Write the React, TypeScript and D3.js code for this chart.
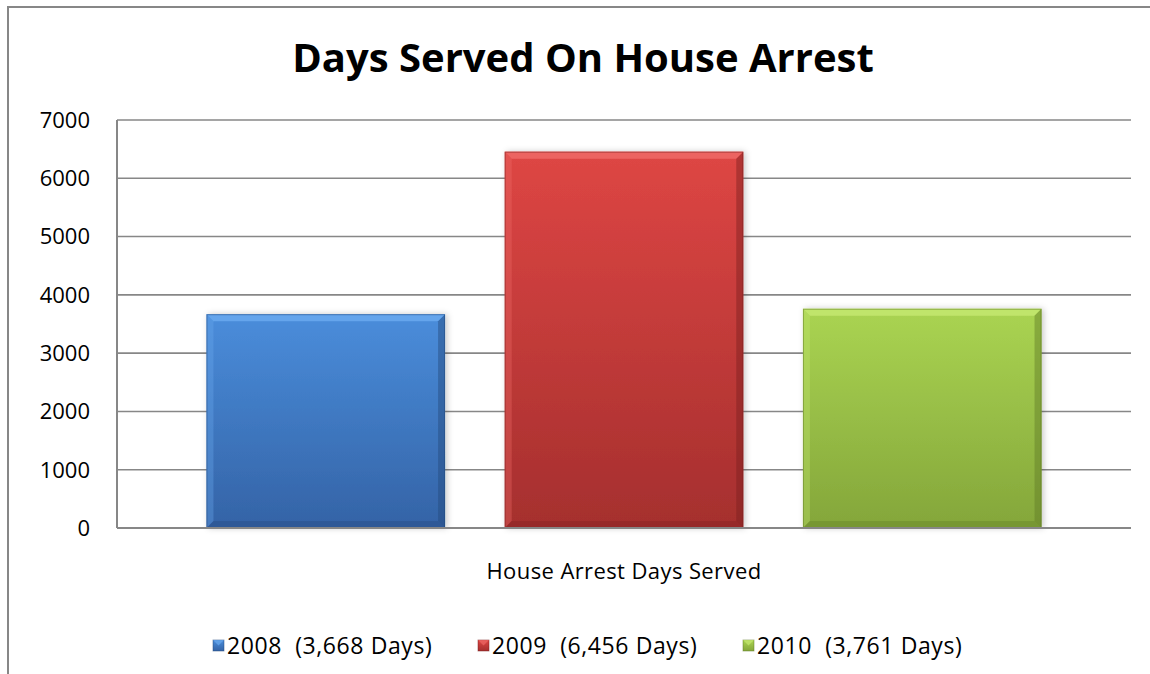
import { useMemo } from 'react';
import * as d3 from 'd3';

// chart data
const category = 'House Arrest Days Served';
const years = ['2008', '2009', '2010'];
const daysServed = [3668, 6456, 3761];
const legendLabels = ['2008  (3,668 Days)', '2009  (6,456 Days)', '2010  (3,761 Days)'];
const yTicks = [0, 1000, 2000, 3000, 4000, 5000, 6000, 7000];

const palette = [
  { top: '#4a8ddb', bottom: '#3463a6', light: '#6aa9ee', dark: '#24497c' },
  { top: '#de4644', bottom: '#a52f2e', light: '#ee6a66', dark: '#7a2020' },
  { top: '#aad452', bottom: '#84a63a', light: '#c4e870', dark: '#5f7a26' },
];

const W = 1150;
const H = 674;
const margin = { left: 117, right: 1131, top: 120, bottom: 528 };
const FONT = "'Open Sans', 'Noto Sans', sans-serif";

const App = () => {
  const x = useMemo(
    () => d3.scaleBand().domain(years).range([margin.left, margin.right]).paddingInner(0.2).paddingOuter(0.3),
    []
  );
  const y = useMemo(
    () => d3.scaleLinear().domain([0, 7000]).range([margin.bottom, margin.top]),
    []
  );
  const bw = x.bandwidth();
  const bev = 7;

  return (
    <div style={{ position: 'fixed', left: 0, top: 0 }}>
      <svg width={W} height={H} viewBox={`0 0 ${W} ${H}`} style={{ display: 'block', background: '#fff' }}>
        <defs>
          {palette.map((c, i) => (
            <linearGradient key={i} id={`grad${i}`} x1="0" y1="0" x2="0" y2="1">
              <stop offset="0%" stopColor={c.top} />
              <stop offset="100%" stopColor={c.bottom} />
            </linearGradient>
          ))}
          <filter id="shadow" x="-10%" y="-10%" width="120%" height="120%">
            <feDropShadow dx="2" dy="0" stdDeviation="3" floodColor="#000" floodOpacity="0.22" />
          </filter>
        </defs>

        {/* chart frame */}
        <rect x={8} y={7} width={1300} height={900} fill="none" stroke="#878787" strokeWidth={2} />

        {/* title */}
        <text x={583} y={72} textAnchor="middle" fontFamily={FONT} fontWeight="bold" fontSize={40} fill="#000">
          Days Served On House Arrest
        </text>

        {/* gridlines */}
        {yTicks.map((t) => (
          <line key={t} x1={margin.left} x2={margin.right} y1={y(t)} y2={y(t)} stroke="#878787" strokeWidth={1.6} />
        ))}
        <line x1={margin.left} x2={margin.left} y1={y(7000)} y2={y(0)} stroke="#878787" strokeWidth={2} />

        {/* y tick labels */}
        {yTicks.map((t) => (
          <text key={t} x={90} y={y(t)} dy="0.36em" textAnchor="end" fontFamily={FONT} fontSize={22} fill="#000">
            {t}
          </text>
        ))}

        {/* bars */}
        {years.map((yr, i) => {
          const x0 = x(yr)!;
          const y0 = y(daysServed[i]);
          const y1 = y(0);
          const h = y1 - y0;
          const c = palette[i];
          return (
            <g key={yr}>
              <rect x={x0} y={y0} width={bw} height={h} fill={`url(#grad${i})`} filter="url(#shadow)" />
              <polygon points={`${x0},${y0} ${x0 + bw},${y0} ${x0 + bw - bev},${y0 + bev} ${x0 + bev},${y0 + bev}`} fill={c.light} opacity={0.85} />
              <polygon points={`${x0},${y0} ${x0 + bev},${y0 + bev} ${x0 + bev},${y1 - bev} ${x0},${y1}`} fill={c.light} opacity={0.35} />
              <polygon points={`${x0 + bw},${y0} ${x0 + bw - bev},${y0 + bev} ${x0 + bw - bev},${y1 - bev} ${x0 + bw},${y1}`} fill={c.dark} opacity={0.45} />
              <polygon points={`${x0},${y1} ${x0 + bev},${y1 - bev} ${x0 + bw - bev},${y1 - bev} ${x0 + bw},${y1}`} fill={c.dark} opacity={0.35} />
              <rect x={x0 + 0.5} y={y0 + 0.5} width={bw - 1} height={h - 1} fill="none" stroke={c.dark} strokeOpacity={0.5} strokeWidth={1} />
            </g>
          );
        })}

        {/* zero axis line on top */}
        <line x1={margin.left} x2={margin.right} y1={y(0)} y2={y(0)} stroke="#878787" strokeWidth={2} />

        {/* category label */}
        <text x={(margin.left + margin.right) / 2} y={579} textAnchor="middle" fontFamily={FONT} fontSize={22} letterSpacing={0.4} fill="#000">
          {category}
        </text>

        {/* legend */}
        {legendLabels.map((lbl, i) => {
          const lx = 213 + i * 265;
          const ly = 640;
          const c = palette[i];
          return (
            <g key={lbl}>
              <rect x={lx} y={ly} width={11} height={11} fill={`url(#grad${i})`} stroke={c.dark} strokeOpacity={0.6} strokeWidth={0.8} />
              <polygon points={`${lx},${ly} ${lx + 11},${ly} ${lx + 5.5},${ly + 5.5}`} fill={c.light} opacity={0.7} />
              <text x={lx + 14} y={654} fontFamily={FONT} fontSize={23} letterSpacing={0.6} fill="#000" style={{ whiteSpace: 'pre' }}>
                {lbl}
              </text>
            </g>
          );
        })}
      </svg>
    </div>
  );
};

export default App;
